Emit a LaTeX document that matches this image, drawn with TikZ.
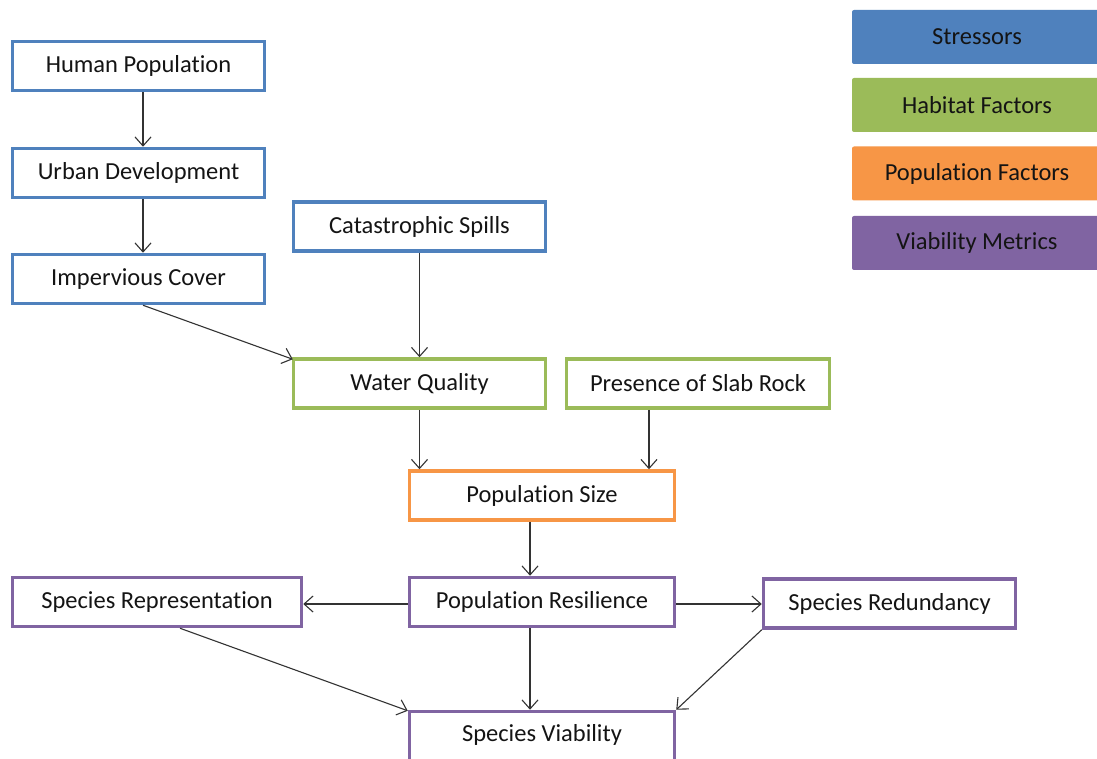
\documentclass[tikz,border=0pt]{standalone}
\usepackage{fontspec}
\setmainfont{Carlito}[Ligatures=NoCommon]
\usetikzlibrary{arrows.meta}
\definecolor{cblue}{HTML}{4F81BD}
\definecolor{cgreen}{HTML}{9BBB59}
\definecolor{corange}{HTML}{F79646}
\definecolor{cpurple}{HTML}{8064A2}
\definecolor{ctext}{HTML}{141414}
\begin{document}
\begin{tikzpicture}[x=1pt,y=-1pt,
  box/.style={draw, line width=3.5pt, fill=white, rectangle, minimum height=49pt,
    text=ctext, font=\fontsize{24.5}{28}\selectfont, inner sep=0pt},
  stress/.style={box, draw=cblue},
  habitat/.style={box, draw=cgreen},
  popf/.style={box, draw=corange},
  viab/.style={box, draw=cpurple},
  legend/.style={rectangle, rounded corners=2pt, minimum width=250pt, minimum height=54pt,
    text=ctext, font=\fontsize{24.5}{28}\selectfont, inner sep=0pt},
  link/.style={draw=black!80, line width=1.1pt, -{Straight Barb[length=9pt,width=16pt]}}]
\clip (0,0) rectangle (1097,759);
\fill[white] (0,0) rectangle (1097,759);

% legend
\node[legend, fill=cblue]   (lgs) at (977,37)  {Stressors};
\node[legend, fill=cgreen]  (lgh) at (977,105) {Habitat Factors};
\node[legend, fill=corange] (lgp) at (977,173.5) {Population Factors};
\node[legend, fill=cpurple] (lgv) at (977,243) {Viability Metrics};

% stressors
\node[stress, minimum width=252pt] (hp) at (138.5,66)  {Human Population};
\node[stress, minimum width=252pt] (ud) at (138.5,173) {Urban Development};
\node[stress, minimum width=252pt] (ic) at (138.5,279) {Impervious Cover};
\node[stress, minimum width=252pt] (cs) at (419.5,226.5) {Catastrophic Spills};

% habitat factors
\node[habitat, minimum width=252pt] (wq) at (419.5,383.5) {Water Quality};
\node[habitat, minimum width=263pt] (sr) at (698,383.5) {Presence of Slab Rock};

% population factors
\node[popf, minimum width=265pt] (ps) at (542,495.5) {Population Size};

% viability metrics
\node[viab, minimum width=289pt] (rep) at (157,602) {Species Representation};
\node[viab, minimum width=265pt] (res) at (542,602) {Population Resilience};
\node[viab, minimum width=252pt] (red) at (889.5,603.5) {Species Redundancy};
\node[viab, minimum width=265pt, minimum height=50pt] (sv) at (542,736.5) {};
\node[font=\fontsize{24.5}{28}\selectfont, text=ctext] (svt) at (542,735) {Species Viability};

% connectors
\draw[link] ([xshift=4.5pt]hp.south) -- ([xshift=4.5pt]ud.north);
\draw[link] ([xshift=4.5pt]ud.south) -- ([xshift=4.5pt]ic.north);
\draw[link] ([xshift=4.5pt]ic.south) -- ([xshift=1pt,yshift=-2pt]wq.north west);
\draw[link] (cs.south) -- (wq.north);
\draw[link] (wq.south) -- (wq.south |- ps.north);
\draw[link] ([xshift=-49pt]sr.south) -- ([xshift=-49pt]sr.south |- ps.north);
\draw[link] ([xshift=-12pt]ps.south) -- ([xshift=-12pt]res.north);
\draw[link] ([yshift=-2pt]res.west) -- ([yshift=-2pt]rep.east);
\draw[link] ([yshift=-2pt]res.east) -- ([yshift=-0.5pt]red.west);
\draw[link] ([xshift=23pt]rep.south) -- ([yshift=-1pt]sv.north west);
\draw[link] ([xshift=-12pt]res.south) -- ([xshift=-12pt]sv.north);
\draw[link] (red.south west) -- (sv.north east);
\end{tikzpicture}
\end{document}
